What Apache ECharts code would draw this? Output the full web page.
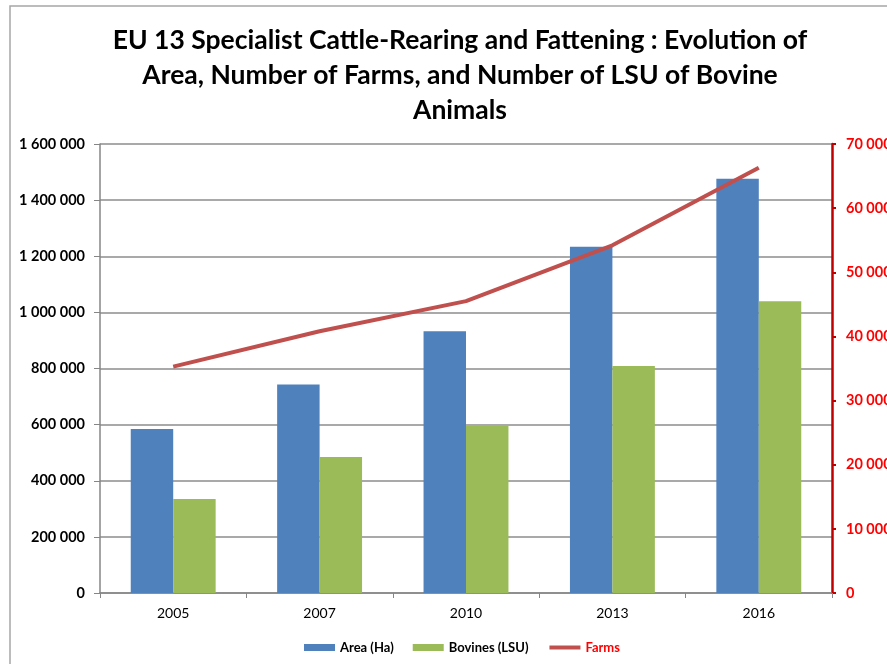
<!DOCTYPE html>
<html>
<head>
<meta charset="utf-8">
<script src="https://cdn.jsdelivr.net/npm/echarts@6/dist/echarts.min.js"></script>
<style>
  html, body { margin: 0; padding: 0; background: #fff; }
  #chart { width: 887px; height: 664px; }
</style>
</head>
<body>
<div id="chart"></div>
<script>
// Years on the category axis
const years = ['2005', '2007', '2010', '2013', '2016'];
// Utilised area (hectares), left axis
const areaHa = [584000, 743000, 933000, 1234000, 1476000];
// Bovine livestock units, left axis
const bovinesLSU = [335000, 485000, 595000, 809000, 1040000];
// Number of farms, right axis
const farms = [35300, 40800, 45500, 54200, 66300];

const FONT = 'Lato, "Open Sans", sans-serif';
const spaced = v => String(v).replace(/\B(?=(\d{3})+(?!\d))/g, ' ');

const chart = echarts.init(document.getElementById('chart'));
chart.setOption({
  animation: false,
  backgroundColor: '#ffffff',
  textStyle: { fontFamily: FONT },
  graphic: [{
    type: 'rect',
    shape: { x: 10, y: 6, width: 900, height: 700 },
    style: { fill: 'none', stroke: '#a6a6a6', lineWidth: 1.5 },
    silent: true
  }],
  title: {
    text: 'EU 13 Specialist Cattle-Rearing and Fattening : Evolution of\nArea, Number of Farms, and Number of LSU of Bovine\nAnimals',
    left: 455,
    top: 18,
    textAlign: 'center',
    textStyle: {
      fontFamily: FONT,
      fontWeight: 'bold',
      fontSize: 26.5,
      lineHeight: 35,
      color: '#000'
    }
  },
  legend: {
    left: 299,
    top: 636,
    itemWidth: 31,
    itemHeight: 7,
    itemGap: 19,
    textStyle: { fontFamily: FONT, fontWeight: 'bold', fontSize: 13, color: '#000' },
    data: [
      { name: 'Area (Ha)', icon: 'rect' },
      { name: 'Bovines (LSU)', icon: 'rect' },
      { name: 'Farms', itemStyle: { opacity: 0 }, lineStyle: { width: 4 }, textStyle: { color: '#ff0000' } }
    ]
  },
  grid: { left: 100, right: 55, top: 144, bottom: 71, containLabel: false, outerBoundsMode: 'none' },
  xAxis: {
    type: 'category',
    data: years,
    boundaryGap: true,
    axisLine: { lineStyle: { color: '#868686', width: 1.5 } },
    axisTick: { show: true, length: 5, lineStyle: { color: '#868686' } },
    axisLabel: { color: '#000', fontSize: 14, margin: 13, fontFamily: FONT }
  },
  yAxis: [{
    type: 'value',
    min: 0,
    max: 1600000,
    interval: 200000,
    axisLine: { show: true, lineStyle: { color: '#868686', width: 1.5 } },
    axisTick: { show: true, length: 6, lineStyle: { color: '#868686' } },
    splitLine: { lineStyle: { color: '#8c8c8c', width: 1.5 } },
    axisLabel: {
      color: '#000', fontSize: 14.5, fontWeight: 'bold', margin: 15,
      fontFamily: FONT, formatter: spaced
    }
  }, {
    type: 'value',
    min: 0,
    max: 70000,
    interval: 10000,
    position: 'right',
    axisLine: { show: true, lineStyle: { color: '#c00000', width: 2.5 } },
    axisTick: { show: true, length: 4, lineStyle: { color: '#c00000', width: 2 } },
    splitLine: { show: false },
    axisLabel: {
      color: '#ff0000', fontSize: 14.5, fontWeight: 'bold', margin: 14,
      fontFamily: FONT, formatter: spaced
    }
  }],
  series: [{
    name: 'Area (Ha)',
    type: 'bar',
    data: areaHa,
    barGap: '0%',
    barCategoryGap: '42%',
    itemStyle: { color: '#4f81bd' }
  }, {
    name: 'Bovines (LSU)',
    type: 'bar',
    data: bovinesLSU,
    itemStyle: { color: '#9bbb59' }
  }, {
    name: 'Farms',
    type: 'line',
    yAxisIndex: 1,
    data: farms,
    symbol: 'none',
    lineStyle: { color: '#c0504d', width: 4 },
    itemStyle: { color: '#c0504d' }
  }]
});
</script>
</body>
</html>
